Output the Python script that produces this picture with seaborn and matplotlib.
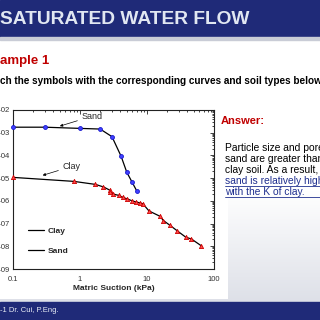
import numpy as np
import seaborn as sns
import matplotlib.pyplot as plt
from matplotlib.patches import Rectangle
from matplotlib.lines import Line2D
from matplotlib.ticker import LogLocator, NullFormatter

# data
sand_suction = [0.1, 0.3, 1.0, 2.0, 3.0, 4.1, 5.0, 6.0, 7.1]
sand_k = [1.75e-3, 1.75e-3, 1.55e-3, 1.45e-3, 6.7e-4, 9.3e-5, 1.8e-5, 6.6e-6, 2.6e-6]

clay_suction = [0.1, 0.81, 1.7, 2.24, 2.76, 2.83, 3.1, 3.8, 4.4, 5.1, 6.0,
                6.9, 7.9, 8.7, 10.7, 15.6, 17.6, 22.0, 28.5, 38.0, 46.0, 64.0]
clay_k = [1.08e-5, 7.2e-6, 5.3e-6, 4.1e-6, 3.0e-6, 2.5e-6, 2.0e-6, 1.74e-6,
          1.41e-6, 1.21e-6, 1.0e-6, 8.9e-7, 8.1e-7, 7.4e-7, 3.6e-7, 2.1e-7,
          1.35e-7, 8.4e-8, 4.7e-8, 2.5e-8, 2.1e-8, 1.07e-8]

x_ticks = [0.1, 1, 10, 100]
x_tick_labels = ['0.1', '1', '10', '100']
y_ticks = [1e-2, 1e-3, 1e-4, 1e-5, 1e-6, 1e-7, 1e-8, 1e-9]
y_tick_labels = ['1E-02', '1E-03', '1E-04', '1E-05', '1E-06', '1E-07', '1E-08', '1E-09']

answer_lines = ['Particle size and pore', 'sand are greater than',
                'clay soil. As a result, th', 'sand is relatively high',
                'with the K of clay.']

NAVY = '#1f2a78'
W = H = 320

sns.set_theme(style='white')
plt.rcParams['font.family'] = ['Liberation Sans', 'DejaVu Sans']

fig = plt.figure(figsize=(3.2, 3.2), dpi=100)

# %% slide background (pixel coords, y down)
bg = fig.add_axes([0, 0, 1, 1], zorder=-10)
img = np.ones((H, W, 3))
rows = np.arange(H)
t = np.clip((rows - 190) / 110, 0, 1)[:, None]
gray = np.array([0.87, 0.88, 0.91])
img[:] = (1 - t[..., None]) * 1.0 + t[..., None] * gray
img[95:299, :228] = 1.0
bg.imshow(img, extent=[0, W, H, 0], aspect='auto')
bg.set_xlim(0, W)
bg.set_ylim(H, 0)
bg.axis('off')

bg.add_patch(Rectangle((0, 0), W, 37, color=NAVY))
bg.add_patch(Rectangle((0, 37), W, 3, color='#c9ccd6'))
bg.add_patch(Rectangle((0, 302), W, 18, color=NAVY))

bg.text(0, 19, 'SATURATED WATER FLOW', color='#e1e7f2', fontsize=13.8,
        fontweight='bold', va='center', ha='left')
bg.text(0, 61, 'ample 1', color='#c00000', fontsize=9.5, fontweight='bold',
        va='center', ha='left')
bg.text(0, 81, 'ch the symbols with the corresponding curves and soil types below',
        color='black', fontsize=7.2, fontweight='bold', va='center', ha='left')
bg.text(0, 311, '-1 Dr. Cui, P.Eng.', color='#e8ecf5', fontsize=5.5,
        va='center', ha='left')

bg.text(221, 121, 'Answer:', color='#c00000', fontsize=8, fontweight='bold',
        va='center', ha='left')
for i, line in enumerate(answer_lines):
    y = 148 + i * 11
    col = '#1f2f8f' if i >= 3 else 'black'
    bg.text(225, y, line, color=col, fontsize=7.4, va='center', ha='left',
            family=['Liberation Sans Narrow', 'Liberation Sans', 'DejaVu Sans'])
    if i >= 3:
        bg.plot([225, W], [y + 5, y + 5], color=col, lw=0.6)

# %% chart
ax = fig.add_axes([13 / W, 1 - 269 / H, 201 / W, 159 / H])
ax.set_facecolor('white')

sns.lineplot(x=sand_suction, y=sand_k, color='black', lw=0.9, ax=ax,
             estimator=None, sort=False)
sns.lineplot(x=clay_suction, y=clay_k, color='black', lw=0.9, ax=ax,
             estimator=None, sort=False)
sns.scatterplot(x=sand_suction, y=sand_k, marker='o', s=8, color='#4040ff',
                edgecolor='#1a1acc', linewidth=0.6, ax=ax, zorder=3, clip_on=False)
sns.scatterplot(x=clay_suction, y=clay_k, marker='^', s=9, color='#ff4a4a',
                edgecolor='#cc0000', linewidth=0.6, ax=ax, zorder=3, clip_on=False)

ax.set_xscale('log')
ax.set_yscale('log')
ax.set_xlim(0.1, 100)
ax.set_ylim(1e-9, 1e-2)
ax.set_xticks(x_ticks, x_tick_labels)
ax.set_yticks(y_ticks, y_tick_labels)
ax.xaxis.set_minor_locator(LogLocator(base=10, subs=np.arange(2, 10)))
ax.yaxis.set_minor_locator(LogLocator(base=10, subs=np.arange(2, 10)))
ax.xaxis.set_minor_formatter(NullFormatter())
ax.yaxis.set_minor_formatter(NullFormatter())
ax.tick_params(which='both', direction='in', top=True, right=True,
               labelsize=5.5, pad=2.5, width=0.6, color='#222222',
               labelcolor='#333333')
ax.tick_params(axis='x', which='major', pad=5)
ax.tick_params(which='major', length=3)
ax.tick_params(which='minor', length=1.5)
for s in ax.spines.values():
    s.set_color('#222222')
    s.set_linewidth(0.8)

ax.set_xlabel('Matric Suction (kPa)', fontsize=6, fontweight='bold', va='center')
ax.xaxis.set_label_coords(0.5, -20 / 159)
ax.set_ylabel('')

ax.annotate('Sand', xy=(0.50, 1.95e-3), xytext=(1.07, 5.4e-3), fontsize=6.5,
            va='center', ha='left',
            arrowprops=dict(arrowstyle='-|>', color='black', lw=0.5,
                            mutation_scale=4, shrinkA=1, shrinkB=0))
ax.annotate('Clay', xy=(0.277, 1.33e-5), xytext=(0.557, 3.3e-5), fontsize=6.5,
            va='center', ha='left',
            arrowprops=dict(arrowstyle='-|>', color='black', lw=0.5,
                            mutation_scale=4, shrinkA=1, shrinkB=0))

handles = [Line2D([], [], color='black', lw=0.9, label='Clay'),
           Line2D([], [], color='black', lw=0.9, label='Sand')]
ax.legend(handles=handles, loc='center left', bbox_to_anchor=(15 / 201, 28 / 159),
          frameon=False, prop={'size': 6, 'weight': 'bold'}, handlelength=1.9,
          handletextpad=0.5, labelspacing=1.5, borderpad=0, borderaxespad=0)

fig.savefig('out.png', dpi=100)
